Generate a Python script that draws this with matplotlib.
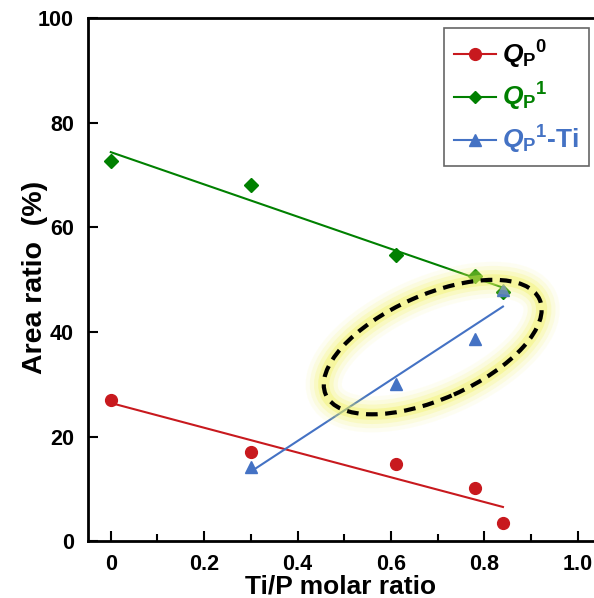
import numpy as np
import matplotlib.pyplot as plt
from matplotlib.lines import Line2D
from matplotlib.patches import Ellipse
from matplotlib.transforms import IdentityTransform
from matplotlib.ticker import MultipleLocator

plt.rcParams['font.family'] = ['Liberation Sans', 'DejaVu Sans']
plt.rcParams['font.weight'] = 'bold'
plt.rcParams['mathtext.fontset'] = 'custom'
plt.rcParams['mathtext.rm'] = 'Liberation Sans:bold'
plt.rcParams['mathtext.bf'] = 'Liberation Sans:bold'
plt.rcParams['mathtext.it'] = 'Liberation Sans:bold:italic'

# Ti/P molar ratio vs area ratio of each species
ti_p = [0, 0.30, 0.61, 0.78, 0.84]
qp0 = [27.0, 17.0, 14.7, 10.1, 3.4]
qp1 = [72.7, 68.0, 54.7, 50.7, 47.7]
ti_p_ti = [0.30, 0.61, 0.78, 0.84]
qp1_ti = [14.2, 30.0, 38.7, 48.0]

red = '#C8191E'
green = '#008000'
blue = '#4472C4'

fig = plt.figure(figsize=(5.94, 5.98), dpi=100)
ax = fig.add_axes([0.148, 0.095, 0.852, 0.875])

def fit_line(x, y, color, lw=1.5):
    k, b = np.polyfit(x, y, 1)
    xs = np.array([min(x), max(x)])
    ax.plot(xs, k * xs + b, color=color, lw=lw, zorder=2)

fit_line(ti_p, qp0, red)
fit_line(ti_p, qp1, green)
fit_line(ti_p_ti, qp1_ti, blue)

ax.plot(ti_p, qp0, 'o', color=red, ms=8.5, ls='none', zorder=3)
ax.plot(ti_p, qp1, 'D', color=green, ms=7, ls='none', zorder=3)
ax.plot(ti_p_ti, qp1_ti, '^', color=blue, ms=9, ls='none', zorder=4)

ax.set_xlim(-0.049, 1.035)
ax.set_ylim(0, 100)
ax.xaxis.set_minor_locator(MultipleLocator(0.1))
ax.yaxis.set_major_locator(MultipleLocator(20))
ax.set_xticks([0, 0.2, 0.4, 0.6, 0.8, 1.0])
ax.set_xticklabels(['0', '0.2', '0.4', '0.6', '0.8', '1.0'])

ax.tick_params(which='both', direction='in', width=1.5, labelsize=15.5)
ax.tick_params(which='major', length=7)
ax.tick_params(which='minor', length=5)
ax.tick_params(axis='x', pad=9)
ax.tick_params(axis='y', pad=10)
for s in ['left', 'bottom', 'top']:
    ax.spines[s].set_linewidth(2)
ax.spines['right'].set_visible(False)

ax.set_xlabel('Ti/P molar ratio', fontsize=19, fontweight='bold', labelpad=0)
ax.set_ylabel('Area ratio  (%)', fontsize=20.5, fontweight='bold')
ax.yaxis.set_label_coords(-0.079, 0.504)

handles = [
    Line2D([], [], color=red, marker='o', ms=8.5, lw=1.5),
    Line2D([], [], color=green, marker='D', ms=6.5, lw=1.5),
    Line2D([], [], color=blue, marker='^', ms=9, lw=1.5),
]
labels = [r'$Q_{\mathrm{P}}{}^{\mathrm{0}}$',
          r'$Q_{\mathrm{P}}{}^{\mathrm{1}}$',
          r'$Q_{\mathrm{P}}{}^{\mathrm{1}}$-Ti']
leg = ax.legend(handles, labels, loc='upper right', bbox_to_anchor=(1.0, 0.99),
                fontsize=19, frameon=True, fancybox=False, edgecolor='#404040',
                handlelength=1.6, handletextpad=0.2, labelspacing=0.4,
                borderpad=0.38, borderaxespad=0.2)
leg.get_frame().set_linewidth(1.2)
for txt, c in zip(leg.get_texts(), ['black', green, blue]):
    txt.set_color(c)

# highlighted region around the Ti-rich points
cx, cy = ax.transData.transform((0.6895, 37.1))
for lw, a in [(26, 0.08), (20, 0.13), (14, 0.2), (8, 0.35)]:
    ax.add_patch(Ellipse((cx, cy), 234, 104, angle=24, fill=False,
                         ec='#F2F25A', lw=lw, alpha=a,
                         transform=IdentityTransform(), zorder=5))
ax.add_patch(Ellipse((cx, cy), 234, 104, angle=24, fill=False, ec='black',
                     lw=3, ls=(0, (2.8, 1.8)),
                     transform=IdentityTransform(), zorder=6))

fig.savefig('out.png', dpi=100)
